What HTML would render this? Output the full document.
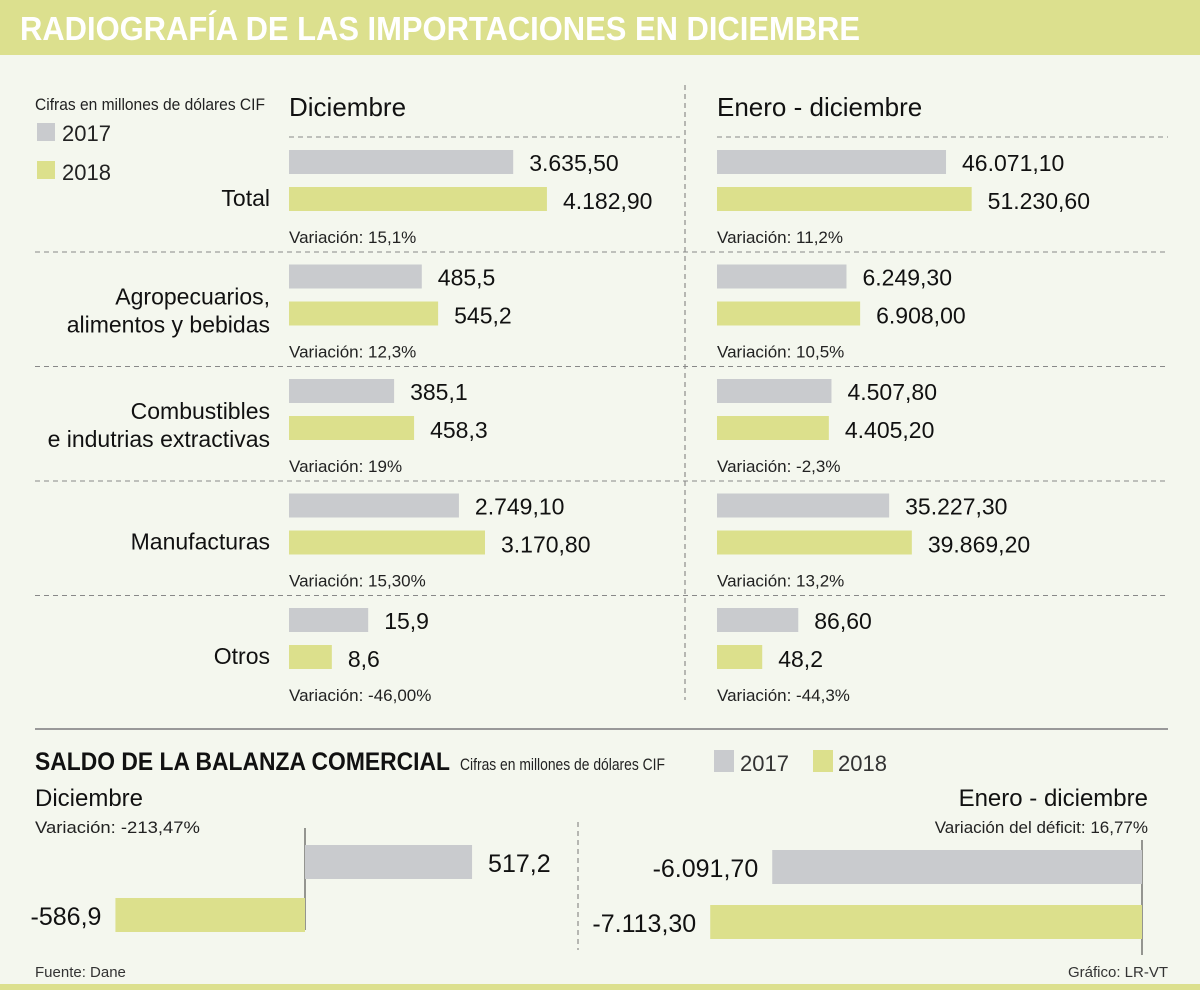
<!DOCTYPE html>
<html><head><meta charset="utf-8">
<style>
html,body{margin:0;padding:0;background:#f4f7ee;}
svg{display:block;font-family:"Liberation Sans",sans-serif;}
</style></head>
<body>
<svg id="c" width="1200" height="990" viewBox="0 0 1200 990">
<rect x="0" y="0" width="1200" height="990" fill="#f4f7ee"/>
<rect x="0" y="0" width="1200" height="55" fill="#dce08e"/>
<text x="20" y="40" fill="#fff" font-weight="bold" font-size="33" textLength="840" lengthAdjust="spacingAndGlyphs">RADIOGRAFÍA DE LAS IMPORTACIONES EN DICIEMBRE</text>
<rect x="0" y="984" width="1200" height="6" fill="#dce08e"/>

<text x="35" y="110" font-size="17" fill="#222" textLength="230" lengthAdjust="spacingAndGlyphs">Cifras en millones de dólares CIF</text>
<rect x="37" y="123" width="18" height="18" fill="#c9cbce"/>
<text x="62" y="141" font-size="22" fill="#222">2017</text>
<rect x="37" y="161" width="18" height="18" fill="#dce08c"/>
<text x="62" y="180" font-size="22" fill="#222">2018</text>

<text x="289" y="116" font-size="26" fill="#111">Diciembre</text>
<text x="717" y="116" font-size="26" fill="#111">Enero - diciembre</text>
<line x1="685" y1="85" x2="685" y2="700" stroke="#777" stroke-dasharray="5,4"/>
<line x1="289" y1="137" x2="680" y2="137" stroke="#888" stroke-dasharray="5,4"/>
<line x1="717" y1="137" x2="1168" y2="137" stroke="#888" stroke-dasharray="5,4"/>
<g id="rows"></g>

<line x1="35" y1="729" x2="1168" y2="729" stroke="#999" stroke-width="2"/>
<text x="35" y="770" font-size="25" font-weight="bold" fill="#111" textLength="415" lengthAdjust="spacingAndGlyphs">SALDO DE LA BALANZA COMERCIAL</text>
<text x="460" y="770" font-size="17" fill="#222" textLength="205" lengthAdjust="spacingAndGlyphs">Cifras en millones de dólares CIF</text>
<rect x="714" y="750" width="20" height="22" fill="#c9cbce"/>
<text x="740" y="771" font-size="22" fill="#333">2017</text>
<rect x="813" y="750" width="20" height="22" fill="#dce08c"/>
<text x="838" y="771" font-size="22" fill="#333">2018</text>
<text x="35" y="806" font-size="24" fill="#111">Diciembre</text>
<text x="35" y="833" font-size="17" fill="#222" textLength="165" lengthAdjust="spacingAndGlyphs">Variación: -213,47%</text>
<text x="1148" y="806" font-size="24" fill="#111" text-anchor="end">Enero - diciembre</text>
<text x="1148" y="833" font-size="17" fill="#222" text-anchor="end">Variación del déficit: 16,77%</text>
<line x1="578" y1="822" x2="578" y2="950" stroke="#777" stroke-dasharray="5,4"/>
<g id="bal"></g>
<text x="35" y="977" font-size="15" fill="#333">Fuente: Dane</text>
<text x="1168" y="977" font-size="15" fill="#333" text-anchor="end">Gráfico: LR-VT</text>
</svg>
<script>
const categories = [["Total"],["Agropecuarios,","alimentos y bebidas"],["Combustibles","e indutrias extractivas"],["Manufacturas"],["Otros"]];
const dic2017 = [3635.5, 485.5, 385.1, 2749.1, 15.9];
const dic2018 = [4182.9, 545.2, 458.3, 3170.8, 8.6];
const dic2017Labels = ["3.635,50","485,5","385,1","2.749,10","15,9"];
const dic2018Labels = ["4.182,90","545,2","458,3","3.170,80","8,6"];
const dicVariacion = ["15,1%","12,3%","19%","15,30%","-46,00%"];
const anual2017 = [46071.1, 6249.3, 4507.8, 35227.3, 86.6];
const anual2018 = [51230.6, 6908.0, 4405.2, 39869.2, 48.2];
const anual2017Labels = ["46.071,10","6.249,30","4.507,80","35.227,30","86,60"];
const anual2018Labels = ["51.230,60","6.908,00","4.405,20","39.869,20","48,2"];
const anualVariacion = ["11,2%","10,5%","-2,3%","13,2%","-44,3%"];
// per-row axis domains (each row in the original uses its own scale)
const dicDomain = [4200, 947, 949, 4190, 52];
const anualDomain = [52100, 12500, 10200, 53000, 276];
const balanzaDic = [517.2, -586.9];
const balanzaDicLabels = ["517,2","-586,9"];
const balanzaAnual = [-6091.7, -7113.3];
const balanzaAnualLabels = ["-6.091,70","-7.113,30"];

const NS="http://www.w3.org/2000/svg";
function mk(tag, attrs, parent, txt){const e=document.createElementNS(NS,tag);for(const k in attrs)e.setAttribute(k,attrs[k]);if(txt!==undefined)e.textContent=txt;parent.appendChild(e);return e;}
const rows=document.getElementById('rows');
const RANGE=259, PITCH=114.5, Y0=150;
const C17="#c9cbce", C18="#dce08c";
function xs(v, dom){return v/dom*RANGE;}
categories.forEach((cat,i)=>{
  const y=Y0+i*PITCH;
  cat.forEach((line,j)=>{
    const off=cat.length===1?56:(j===0?40:68);
    const t=mk('text',{x:270,y:y+off,'font-size':23,'text-anchor':'end',fill:'#111'},rows,line);
    
    
  });
  [[289,dic2017,dic2018,dic2017Labels,dic2018Labels,dicDomain,dicVariacion,'dic'],[717,anual2017,anual2018,anual2017Labels,anual2018Labels,anualDomain,anualVariacion,'anual']].forEach(p=>{
    const [x0,a,b,la,lb,dom,vr,nm]=p;
    const w1=xs(a[i],dom[i]), w2=xs(b[i],dom[i]);
    const r1=mk('rect',{x:x0,y:y,width:w1,height:24,fill:C17},rows);
    
    
    const r2=mk('rect',{x:x0,y:y+37,width:w2,height:24,fill:C18},rows);
    
    
    const t1=mk('text',{x:x0+w1+16,y:y+21,'font-size':23,fill:'#111'},rows,la[i]);
    
    
    const t2=mk('text',{x:x0+w2+16,y:y+59,'font-size':23,fill:'#111'},rows,lb[i]);
    
    
    const tv=mk('text',{x:x0,y:y+93,'font-size':17,fill:'#222'},rows,'Variación: '+vr[i]);
    
    
  });
  if(i<categories.length-1){
    const l=mk('line',{x1:35,y1:y+102,x2:1168,y2:y+102,stroke:'#888','stroke-dasharray':'5,4'},rows);
    
    
  }
});
const bal=document.getElementById('bal');
function bxL(v){return 305+v*0.323;}
function bxR(v){return 1142+v*0.0607;}
const ax1=mk('line',{x1:305,y1:828,x2:305,y2:930,stroke:'#333'},bal);


const ax2=mk('line',{x1:1142,y1:840,x2:1142,y2:955,stroke:'#333'},bal);


[[balanzaDic,balanzaDicLabels,bxL,305,[845,898],'dic'],[balanzaAnual,balanzaAnualLabels,bxR,1142,[850,905],'anual']].forEach(p=>{
  const [vals,labs,f,z,ys,nm]=p;
  vals.forEach((v,k)=>{
    const xa=Math.min(f(v),z), w=Math.abs(f(v)-z);
    const r=mk('rect',{x:xa,y:ys[k],width:w,height:34,fill:k===0?C17:C18},bal);
    
    
    const pos=v>=0;
    const t=mk('text',{x:pos?f(v)+16:f(v)-14,y:ys[k]+27,'font-size':25,fill:'#111','text-anchor':pos?'start':'end'},bal,labs[k]);
    
    
  });
});
</script>
</body></html>
